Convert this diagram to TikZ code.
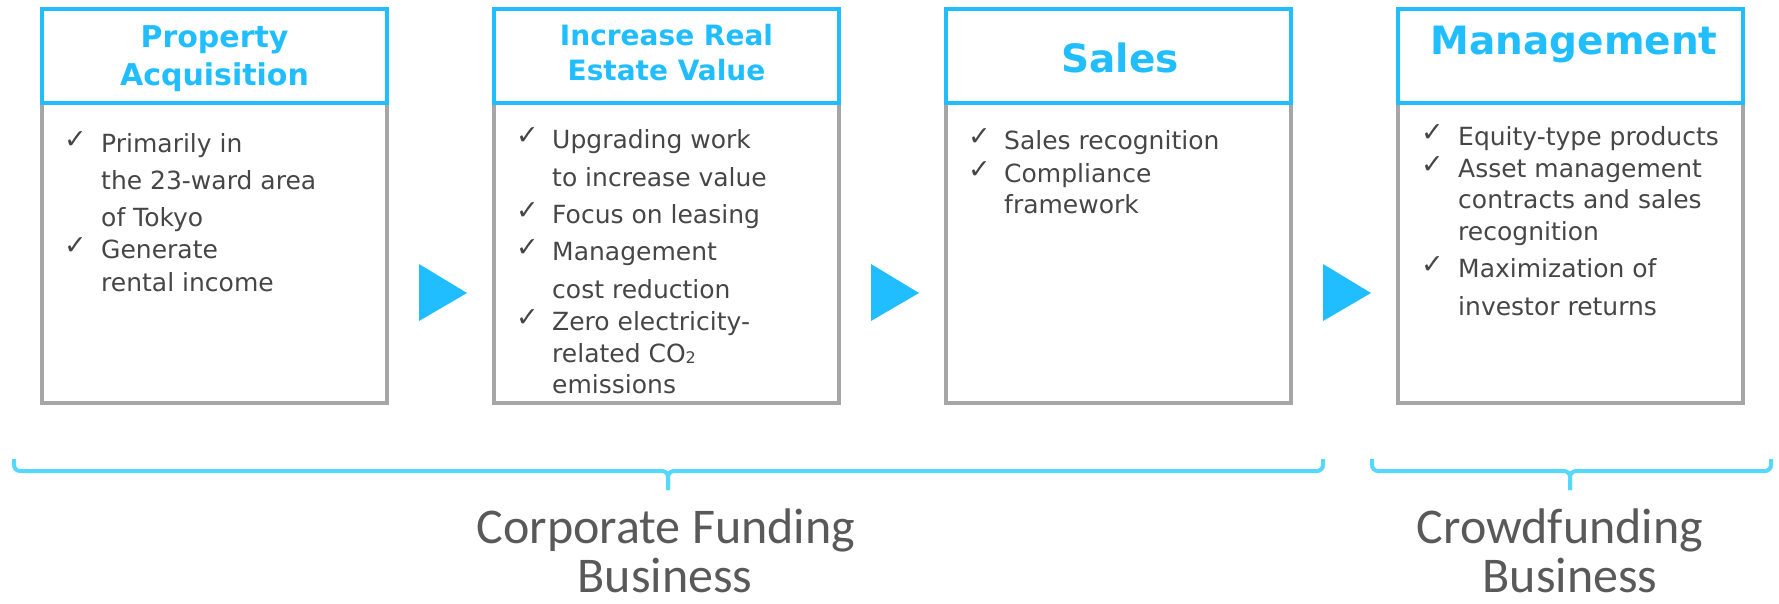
\documentclass[tikz,border=0pt]{standalone}
\usepackage{fontspec}
\setmainfont{DejaVu Sans}
\newfontfamily\groupfont{Carlito}
\usetikzlibrary{positioning}
\definecolor{head-cyan}{RGB}{32,190,255}
\definecolor{brace-cyan}{RGB}{84,216,255}
\definecolor{body-gray}{RGB}{166,166,166}
\definecolor{item-gray}{RGB}{70,70,70}
\definecolor{group-gray}{RGB}{89,89,89}
\tikzset{
  headbox/.style={draw=head-cyan, line width=4pt, fill=white, minimum width=345pt, minimum height=94pt, inner sep=0pt},
  bodybox/.style={draw=body-gray, line width=4pt, minimum width=345pt, minimum height=300pt, inner sep=0pt},
  headtxt/.style={text=head-cyan, anchor=base, inner sep=0pt, font=\bfseries\fontsize{30}{35}\selectfont},
  itemtxt/.style={text=item-gray, anchor=base west, inner sep=0pt, font=\fontsize{25}{30}\selectfont},
  chkmark/.style={text=item-gray, anchor=base west, inner sep=0pt, yshift=4pt, font=\fontsize{27}{27}\selectfont},
  flowtip/.style={fill=head-cyan},
  brace/.style={draw=brace-cyan, line width=4pt, rounded corners=6pt},
  grouptxt/.style={text=group-gray, anchor=base, inner sep=0pt, font=\groupfont\fontsize{50}{55}\selectfont}
}
\begin{document}
\begin{tikzpicture}[x=1pt, y=-1pt]
  \useasboundingbox (0,0) rectangle (1779,603);
  % step boxes
  \foreach \c [count=\i] in {214.5,666.5,1118.5,1570.5} {
    \node[bodybox] (bd\i) at (\c,253) {};
    \node[headbox] (hd\i) at (\c,56) {};
  }
  % headers
  \node[headtxt] (hd1-a) at (214.5,47) {Property};
  \node[headtxt] (hd1-b) at (214.5,85) {Acquisition};
  \node[headtxt, font=\bfseries\fontsize{28}{33}\selectfont] (hd2-a) at (666.5,45) {Increase Real};
  \node[headtxt, font=\bfseries\fontsize{28}{33}\selectfont] (hd2-b) at (666.5,80) {Estate Value};
  \node[headtxt, font=\bfseries\fontsize{39}{44}\selectfont] (hd3-a) at (1120,72) {Sales};
  \node[headtxt, font=\bfseries\fontsize{39}{44}\selectfont] (hd4-a) at (1574,54) {Management};
  % items
  \foreach \y/\t [count=\i] in {152/Primarily in, 189/the 23-ward area, 226/of Tokyo, 258/Generate, 291/rental income}
    \node[itemtxt] (pa-\i) at (101,\y) {\t};
  \foreach \y [count=\i] in {152,258}
    \node[chkmark] (pa-c\i) at (64,\y) {✓};
  \foreach \y/\t [count=\i] in {148/Upgrading work, 186/to increase value, 223/Focus on leasing, 260/Management, 298/cost reduction, 330/Zero electricity-, 362/related CO{\raisebox{-1pt}{\fontsize{16}{16}\selectfont 2}}, 393/emissions}
    \node[itemtxt] (rv-\i) at (552,\y) {\t};
  \foreach \y [count=\i] in {148,223,260,330}
    \node[chkmark] (rv-c\i) at (516,\y) {✓};
  \foreach \y/\t [count=\i] in {149/Sales recognition, 182/Compliance, 213/framework}
    \node[itemtxt] (sl-\i) at (1004,\y) {\t};
  \foreach \y [count=\i] in {149,182}
    \node[chkmark] (sl-c\i) at (968,\y) {✓};
  \foreach \y/\t [count=\i] in {145/Equity-type products, 177/Asset management, 208/contracts and sales, 240/recognition, 277/Maximization of, 315/investor returns}
    \node[itemtxt] (mg-\i) at (1458,\y) {\t};
  \foreach \y [count=\i] in {145,177,277}
    \node[chkmark] (mg-c\i) at (1421,\y) {✓};
  % arrows between steps
  \foreach \x in {419,871,1323}
    \fill[flowtip] (\x,264) -- ++(48,29) -- ++(-48,28) -- cycle;
  % braces
  \coordinate (cf-tip) at (668,490);
  \coordinate (cw-tip) at (1570,490);
  \draw[brace] (14,459) |- (668,471) -- (cf-tip);
  \draw[brace] (1323,459) |- (668,471) -- (cf-tip);
  \draw[brace] (1372,459) |- (1570,471) -- (cw-tip);
  \draw[brace] (1771,459) |- (1570,471) -- (cw-tip);
  % business groups
  \node[grouptxt] (cf-a) at (666,543) {Corporate Funding};
  \node[grouptxt] (cf-b) at (665,592) {Business};
  \node[grouptxt] (cw-a) at (1560,543) {Crowdfunding};
  \node[grouptxt] (cw-b) at (1570,592) {Business};
\end{tikzpicture}
\end{document}
